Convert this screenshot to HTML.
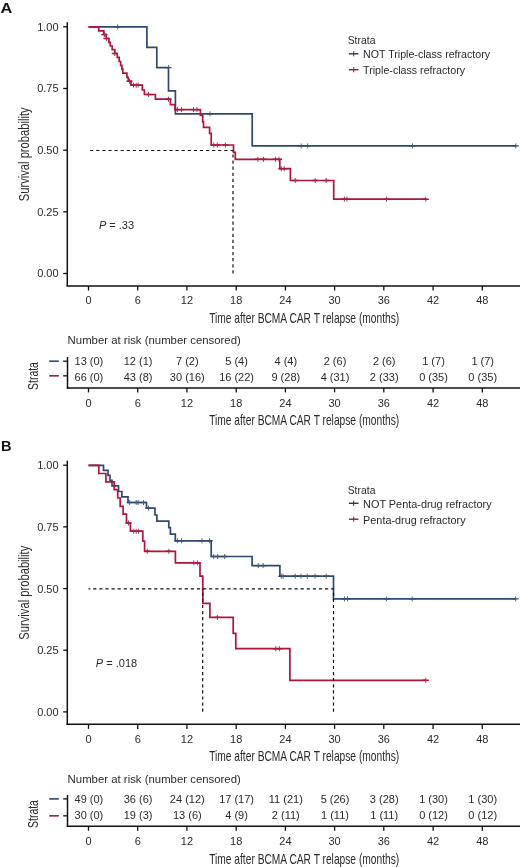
<!DOCTYPE html>
<html><head><meta charset="utf-8"><title>KM curves</title>
<style>
html,body{margin:0;padding:0;background:#fff;width:520px;height:867px;overflow:hidden;}
svg{display:block;will-change:transform;}
text{font-family:"Liberation Sans",sans-serif;}
</style></head><body>
<svg width="520" height="867" viewBox="0 0 520 867">
<rect width="520" height="867" fill="#fff"/>
<text x="0.6" y="13.4" font-size="15.0" font-weight="bold" textLength="11.8" lengthAdjust="spacingAndGlyphs" fill="#111">A</text>
<text x="58.6" y="30.7" font-size="11" text-anchor="end" fill="#2a2a2a">1.00</text>
<line x1="63.2" y1="26.8" x2="67.3" y2="26.8" stroke="#111" stroke-width="1.3"/>
<text x="58.6" y="92.4" font-size="11" text-anchor="end" fill="#2a2a2a">0.75</text>
<line x1="63.2" y1="88.5" x2="67.3" y2="88.5" stroke="#111" stroke-width="1.3"/>
<text x="58.6" y="154.1" font-size="11" text-anchor="end" fill="#2a2a2a">0.50</text>
<line x1="63.2" y1="150.2" x2="67.3" y2="150.2" stroke="#111" stroke-width="1.3"/>
<text x="58.6" y="215.7" font-size="11" text-anchor="end" fill="#2a2a2a">0.25</text>
<line x1="63.2" y1="211.8" x2="67.3" y2="211.8" stroke="#111" stroke-width="1.3"/>
<text x="58.6" y="277.4" font-size="11" text-anchor="end" fill="#2a2a2a">0.00</text>
<line x1="63.2" y1="273.5" x2="67.3" y2="273.5" stroke="#111" stroke-width="1.3"/>
<line x1="67.3" y1="22.3" x2="67.3" y2="286.6" stroke="#111" stroke-width="1.5"/>
<line x1="66.6" y1="285.9" x2="520" y2="285.9" stroke="#111" stroke-width="1.5"/>
<line x1="88.5" y1="286.0" x2="88.5" y2="290.5" stroke="#111" stroke-width="1.3"/>
<text x="88.5" y="304.3" font-size="11" text-anchor="middle" fill="#2a2a2a">0</text>
<line x1="137.7" y1="286.0" x2="137.7" y2="290.5" stroke="#111" stroke-width="1.3"/>
<text x="137.7" y="304.3" font-size="11" text-anchor="middle" fill="#2a2a2a">6</text>
<line x1="186.9" y1="286.0" x2="186.9" y2="290.5" stroke="#111" stroke-width="1.3"/>
<text x="186.9" y="304.3" font-size="11" text-anchor="middle" fill="#2a2a2a">12</text>
<line x1="236.2" y1="286.0" x2="236.2" y2="290.5" stroke="#111" stroke-width="1.3"/>
<text x="236.2" y="304.3" font-size="11" text-anchor="middle" fill="#2a2a2a">18</text>
<line x1="285.4" y1="286.0" x2="285.4" y2="290.5" stroke="#111" stroke-width="1.3"/>
<text x="285.4" y="304.3" font-size="11" text-anchor="middle" fill="#2a2a2a">24</text>
<line x1="334.6" y1="286.0" x2="334.6" y2="290.5" stroke="#111" stroke-width="1.3"/>
<text x="334.6" y="304.3" font-size="11" text-anchor="middle" fill="#2a2a2a">30</text>
<line x1="383.8" y1="286.0" x2="383.8" y2="290.5" stroke="#111" stroke-width="1.3"/>
<text x="383.8" y="304.3" font-size="11" text-anchor="middle" fill="#2a2a2a">36</text>
<line x1="433.1" y1="286.0" x2="433.1" y2="290.5" stroke="#111" stroke-width="1.3"/>
<text x="433.1" y="304.3" font-size="11" text-anchor="middle" fill="#2a2a2a">42</text>
<line x1="482.3" y1="286.0" x2="482.3" y2="290.5" stroke="#111" stroke-width="1.3"/>
<text x="482.3" y="304.3" font-size="11" text-anchor="middle" fill="#2a2a2a">48</text>
<text x="209.2" y="322.7" font-size="13.9" textLength="190" lengthAdjust="spacingAndGlyphs" fill="#2a2a2a">Time after BCMA CAR T relapse (months)</text>
<text transform="translate(28.9 154.3) rotate(-90)" x="0" y="0" font-size="13.8" text-anchor="middle" textLength="94" lengthAdjust="spacingAndGlyphs" fill="#2a2a2a">Survival probability</text>
<text x="347.7" y="44.2" font-size="10.4" fill="#2a2a2a">Strata</text>
<path d="M348.9 53.8H358.5" stroke="#263a58" stroke-width="1.4" fill="none"/><path d="M353.7 51.2V56.4" stroke="#263a58" stroke-width="1.0" fill="none"/>
<text x="363.1" y="58.4" font-size="10.7" textLength="127" lengthAdjust="spacingAndGlyphs" fill="#2a2a2a">NOT Triple-class refractory</text>
<path d="M348.9 69.7H358.5" stroke="#8a1c3a" stroke-width="1.4" fill="none"/><path d="M353.7 67.1V72.3" stroke="#8a1c3a" stroke-width="1.0" fill="none"/>
<text x="363.1" y="74.3" font-size="10.7" textLength="102" lengthAdjust="spacingAndGlyphs" fill="#2a2a2a">Triple-class refractory</text>
<path d="M88.5 26.8H146.9V47.3H156.8V67.6H168.5V90.9H175.4V113.8H252.2V145.9H516.0" stroke="#2f4a70" stroke-width="1.7" fill="none" stroke-linejoin="miter"/>
<path d="M114.7 26.8H120.7M165.5 67.6H171.5M207.0 113.8H213.0M298.2 145.9H304.2M304.7 145.9H310.7M409.5 145.9H415.5M512.8 145.9H518.8" stroke="#2f4a70" stroke-width="1.4" fill="none"/><path d="M117.7 24.3V29.3M168.5 65.1V70.1M210.0 111.3V116.3M301.2 143.4V148.4M307.7 143.4V148.4M412.5 143.4V148.4M515.8 143.4V148.4" stroke="#4a5a74" stroke-width="0.95" fill="none"/>
<path d="M88.5 26.8H98.7V30.8H103.8V34.5H106.2V38.5H108.9V42.3H110.2V46.0H112.2V49.7H114.8V53.5H117.3V57.4H119.2V61.5H120.6V65.3H121.9V69.2H122.8V73.2H126.9V77.4H128.3V81.2H131.0V85.2H142.3V90.0H144.4V94.5H155.4V99.2H170.4V104.6H175.0V109.6H200.4V115.4H202.7V121.9H203.5V127.3H209.6V133.3H211.2V145.0H233.5V152.4H235.3V159.3H279.8V168.7H290.4V180.5H333.7V199.2H426.0" stroke="#b0143c" stroke-width="1.7" fill="none" stroke-linejoin="miter"/>
<path d="M101.4 34.5H107.4M103.4 38.5H109.4M111.8 53.5H117.8M126.5 81.2H132.5M130.5 85.2H136.5M133.2 85.2H139.2M135.1 85.2H141.1M145.5 94.5H151.5M165.5 99.2H171.5M174.3 109.6H180.3M178.5 109.6H184.5M190.5 109.6H196.5M193.9 109.6H199.9M210.8 145.0H216.8M214.3 145.0H220.3M222.4 145.0H228.4M254.9 159.3H260.9M260.5 159.3H266.5M272.6 159.3H278.6M276.0 159.3H282.0M278.3 168.7H284.3M281.2 168.7H287.2M292.2 180.5H298.2M312.2 180.5H318.2M323.2 180.5H329.2M341.4 199.2H347.4M343.9 199.2H349.9M383.5 199.2H389.5M422.8 199.2H428.8" stroke="#b0143c" stroke-width="1.4" fill="none"/><path d="M104.4 32.0V37.0M106.4 36.0V41.0M114.8 51.0V56.0M129.5 78.7V83.7M133.5 82.7V87.7M136.2 82.7V87.7M138.1 82.7V87.7M148.5 92.0V97.0M168.5 96.7V101.7M177.3 107.1V112.1M181.5 107.1V112.1M193.5 107.1V112.1M196.9 107.1V112.1M213.8 142.5V147.5M217.3 142.5V147.5M225.4 142.5V147.5M257.9 156.8V161.8M263.5 156.8V161.8M275.6 156.8V161.8M279.0 156.8V161.8M281.3 166.2V171.2M284.2 166.2V171.2M295.2 178.0V183.0M315.2 178.0V183.0M326.2 178.0V183.0M344.4 196.7V201.7M346.9 196.7V201.7M386.5 196.7V201.7M425.8 196.7V201.7" stroke="#94304f" stroke-width="0.95" fill="none"/>
<path d="M90.1 150.5H233.0" stroke="#111" stroke-width="1.2" stroke-dasharray="3.2 2.9" stroke-dashoffset="0" fill="none"/>
<path d="M233.0 273.5V150.5" stroke="#111" stroke-width="1.2" stroke-dasharray="3.2 2.9" stroke-dashoffset="0" fill="none"/>
<text x="116.5" y="229.4" font-size="11" text-anchor="middle" fill="#2a2a2a"><tspan font-style="italic">P</tspan> = .33</text>
<text x="67.6" y="343.7" font-size="11" textLength="173.2" lengthAdjust="spacingAndGlyphs" fill="#2a2a2a">Number at risk (number censored)</text>
<text transform="translate(37.5 376.0) rotate(-90)" font-size="14.2" text-anchor="middle" textLength="27.8" lengthAdjust="spacingAndGlyphs" fill="#2a2a2a">Strata</text>
<line x1="49.2" y1="361.2" x2="58.8" y2="361.2" stroke="#34507a" stroke-width="1.7"/>
<line x1="49.2" y1="375.8" x2="58.8" y2="375.8" stroke="#98284a" stroke-width="1.7"/>
<line x1="63.2" y1="361.2" x2="67.3" y2="361.2" stroke="#111" stroke-width="1.3"/>
<line x1="63.2" y1="375.8" x2="67.3" y2="375.8" stroke="#111" stroke-width="1.3"/>
<line x1="67.5" y1="357.0" x2="67.5" y2="388.6" stroke="#111" stroke-width="1.5"/>
<line x1="66.8" y1="387.9" x2="520" y2="387.9" stroke="#111" stroke-width="1.5"/>
<line x1="88.5" y1="388.0" x2="88.5" y2="392.4" stroke="#111" stroke-width="1.3"/>
<text x="88.5" y="406.6" font-size="11" text-anchor="middle" fill="#2a2a2a">0</text>
<text x="88.9" y="364.5" font-size="11" text-anchor="middle" fill="#2a2a2a">13 (0)</text>
<text x="88.9" y="380.8" font-size="11" text-anchor="middle" fill="#2a2a2a">66 (0)</text>
<line x1="137.7" y1="388.0" x2="137.7" y2="392.4" stroke="#111" stroke-width="1.3"/>
<text x="137.7" y="406.6" font-size="11" text-anchor="middle" fill="#2a2a2a">6</text>
<text x="138.1" y="364.5" font-size="11" text-anchor="middle" fill="#2a2a2a">12 (1)</text>
<text x="138.1" y="380.8" font-size="11" text-anchor="middle" fill="#2a2a2a">43 (8)</text>
<line x1="186.9" y1="388.0" x2="186.9" y2="392.4" stroke="#111" stroke-width="1.3"/>
<text x="186.9" y="406.6" font-size="11" text-anchor="middle" fill="#2a2a2a">12</text>
<text x="187.3" y="364.5" font-size="11" text-anchor="middle" fill="#2a2a2a">7 (2)</text>
<text x="187.3" y="380.8" font-size="11" text-anchor="middle" fill="#2a2a2a">30 (16)</text>
<line x1="236.2" y1="388.0" x2="236.2" y2="392.4" stroke="#111" stroke-width="1.3"/>
<text x="236.2" y="406.6" font-size="11" text-anchor="middle" fill="#2a2a2a">18</text>
<text x="236.6" y="364.5" font-size="11" text-anchor="middle" fill="#2a2a2a">5 (4)</text>
<text x="236.6" y="380.8" font-size="11" text-anchor="middle" fill="#2a2a2a">16 (22)</text>
<line x1="285.4" y1="388.0" x2="285.4" y2="392.4" stroke="#111" stroke-width="1.3"/>
<text x="285.4" y="406.6" font-size="11" text-anchor="middle" fill="#2a2a2a">24</text>
<text x="285.8" y="364.5" font-size="11" text-anchor="middle" fill="#2a2a2a">4 (4)</text>
<text x="285.8" y="380.8" font-size="11" text-anchor="middle" fill="#2a2a2a">9 (28)</text>
<line x1="334.6" y1="388.0" x2="334.6" y2="392.4" stroke="#111" stroke-width="1.3"/>
<text x="334.6" y="406.6" font-size="11" text-anchor="middle" fill="#2a2a2a">30</text>
<text x="335.0" y="364.5" font-size="11" text-anchor="middle" fill="#2a2a2a">2 (6)</text>
<text x="335.0" y="380.8" font-size="11" text-anchor="middle" fill="#2a2a2a">4 (31)</text>
<line x1="383.8" y1="388.0" x2="383.8" y2="392.4" stroke="#111" stroke-width="1.3"/>
<text x="383.8" y="406.6" font-size="11" text-anchor="middle" fill="#2a2a2a">36</text>
<text x="384.2" y="364.5" font-size="11" text-anchor="middle" fill="#2a2a2a">2 (6)</text>
<text x="384.2" y="380.8" font-size="11" text-anchor="middle" fill="#2a2a2a">2 (33)</text>
<line x1="433.1" y1="388.0" x2="433.1" y2="392.4" stroke="#111" stroke-width="1.3"/>
<text x="433.1" y="406.6" font-size="11" text-anchor="middle" fill="#2a2a2a">42</text>
<text x="433.5" y="364.5" font-size="11" text-anchor="middle" fill="#2a2a2a">1 (7)</text>
<text x="433.5" y="380.8" font-size="11" text-anchor="middle" fill="#2a2a2a">0 (35)</text>
<line x1="482.3" y1="388.0" x2="482.3" y2="392.4" stroke="#111" stroke-width="1.3"/>
<text x="482.3" y="406.6" font-size="11" text-anchor="middle" fill="#2a2a2a">48</text>
<text x="482.7" y="364.5" font-size="11" text-anchor="middle" fill="#2a2a2a">1 (7)</text>
<text x="482.7" y="380.8" font-size="11" text-anchor="middle" fill="#2a2a2a">0 (35)</text>
<text x="209.2" y="425.4" font-size="13.9" textLength="190" lengthAdjust="spacingAndGlyphs" fill="#2a2a2a">Time after BCMA CAR T relapse (months)</text>
<text x="1.0" y="451.3" font-size="14.6" font-weight="bold" fill="#111">B</text>
<text x="58.6" y="469.1" font-size="11" text-anchor="end" fill="#2a2a2a">1.00</text>
<line x1="63.2" y1="465.2" x2="67.3" y2="465.2" stroke="#111" stroke-width="1.3"/>
<text x="58.6" y="530.8" font-size="11" text-anchor="end" fill="#2a2a2a">0.75</text>
<line x1="63.2" y1="526.9" x2="67.3" y2="526.9" stroke="#111" stroke-width="1.3"/>
<text x="58.6" y="592.5" font-size="11" text-anchor="end" fill="#2a2a2a">0.50</text>
<line x1="63.2" y1="588.6" x2="67.3" y2="588.6" stroke="#111" stroke-width="1.3"/>
<text x="58.6" y="654.1" font-size="11" text-anchor="end" fill="#2a2a2a">0.25</text>
<line x1="63.2" y1="650.2" x2="67.3" y2="650.2" stroke="#111" stroke-width="1.3"/>
<text x="58.6" y="715.8" font-size="11" text-anchor="end" fill="#2a2a2a">0.00</text>
<line x1="63.2" y1="711.9" x2="67.3" y2="711.9" stroke="#111" stroke-width="1.3"/>
<line x1="67.3" y1="460.7" x2="67.3" y2="725.0" stroke="#111" stroke-width="1.5"/>
<line x1="66.6" y1="724.3" x2="520" y2="724.3" stroke="#111" stroke-width="1.5"/>
<line x1="88.5" y1="724.4" x2="88.5" y2="728.9" stroke="#111" stroke-width="1.3"/>
<text x="88.5" y="742.7" font-size="11" text-anchor="middle" fill="#2a2a2a">0</text>
<line x1="137.7" y1="724.4" x2="137.7" y2="728.9" stroke="#111" stroke-width="1.3"/>
<text x="137.7" y="742.7" font-size="11" text-anchor="middle" fill="#2a2a2a">6</text>
<line x1="186.9" y1="724.4" x2="186.9" y2="728.9" stroke="#111" stroke-width="1.3"/>
<text x="186.9" y="742.7" font-size="11" text-anchor="middle" fill="#2a2a2a">12</text>
<line x1="236.2" y1="724.4" x2="236.2" y2="728.9" stroke="#111" stroke-width="1.3"/>
<text x="236.2" y="742.7" font-size="11" text-anchor="middle" fill="#2a2a2a">18</text>
<line x1="285.4" y1="724.4" x2="285.4" y2="728.9" stroke="#111" stroke-width="1.3"/>
<text x="285.4" y="742.7" font-size="11" text-anchor="middle" fill="#2a2a2a">24</text>
<line x1="334.6" y1="724.4" x2="334.6" y2="728.9" stroke="#111" stroke-width="1.3"/>
<text x="334.6" y="742.7" font-size="11" text-anchor="middle" fill="#2a2a2a">30</text>
<line x1="383.8" y1="724.4" x2="383.8" y2="728.9" stroke="#111" stroke-width="1.3"/>
<text x="383.8" y="742.7" font-size="11" text-anchor="middle" fill="#2a2a2a">36</text>
<line x1="433.1" y1="724.4" x2="433.1" y2="728.9" stroke="#111" stroke-width="1.3"/>
<text x="433.1" y="742.7" font-size="11" text-anchor="middle" fill="#2a2a2a">42</text>
<line x1="482.3" y1="724.4" x2="482.3" y2="728.9" stroke="#111" stroke-width="1.3"/>
<text x="482.3" y="742.7" font-size="11" text-anchor="middle" fill="#2a2a2a">48</text>
<text x="209.2" y="761.1" font-size="13.9" textLength="190" lengthAdjust="spacingAndGlyphs" fill="#2a2a2a">Time after BCMA CAR T relapse (months)</text>
<text transform="translate(28.9 592.7) rotate(-90)" x="0" y="0" font-size="13.8" text-anchor="middle" textLength="94" lengthAdjust="spacingAndGlyphs" fill="#2a2a2a">Survival probability</text>
<text x="347.7" y="493.7" font-size="10.4" fill="#2a2a2a">Strata</text>
<path d="M348.9 503.3H358.5" stroke="#263a58" stroke-width="1.4" fill="none"/><path d="M353.7 500.7V505.9" stroke="#263a58" stroke-width="1.0" fill="none"/>
<text x="363.1" y="507.9" font-size="10.7" textLength="128.5" lengthAdjust="spacingAndGlyphs" fill="#2a2a2a">NOT Penta-drug refractory</text>
<path d="M348.9 519.2H358.5" stroke="#8a1c3a" stroke-width="1.4" fill="none"/><path d="M353.7 516.6V521.8" stroke="#8a1c3a" stroke-width="1.0" fill="none"/>
<text x="363.1" y="523.8" font-size="10.7" textLength="102.5" lengthAdjust="spacingAndGlyphs" fill="#2a2a2a">Penta-drug refractory</text>
<path d="M88.5 465.4H103.5V470.4H108.0V475.4H110.0V480.4H112.0V485.8H118.5V491.5H121.9V496.9H128.0V502.5H146.5V508.2H155.0V515.0H156.9V521.2H168.8V527.7H170.4V534.2H175.3V540.8H211.2V556.5H252.1V565.6H279.9V576.2H333.5V598.9H516.0" stroke="#2f4a70" stroke-width="1.7" fill="none" stroke-linejoin="miter"/>
<path d="M126.6 502.5H132.6M133.2 502.5H139.2M135.1 502.5H141.1M140.5 502.5H146.5M145.5 508.2H151.5M174.4 540.8H180.4M178.5 540.8H184.5M199.0 540.8H205.0M206.7 540.8H212.7M210.8 556.5H216.8M214.7 556.5H220.7M221.6 556.5H227.6M255.3 565.6H261.3M260.1 565.6H266.1M278.3 576.2H284.3M280.1 576.2H286.1M292.3 576.2H298.3M298.0 576.2H304.0M304.3 576.2H310.3M312.0 576.2H318.0M323.3 576.2H329.3M341.6 598.9H347.6M344.5 598.9H350.5M383.6 598.9H389.6M409.2 598.9H415.2M512.6 598.9H518.6" stroke="#2f4a70" stroke-width="1.4" fill="none"/><path d="M129.6 500.0V505.0M136.2 500.0V505.0M138.1 500.0V505.0M143.5 500.0V505.0M148.5 505.7V510.7M177.4 538.3V543.3M181.5 538.3V543.3M202.0 538.3V543.3M209.7 538.3V543.3M213.8 554.0V559.0M217.7 554.0V559.0M224.6 554.0V559.0M258.3 563.1V568.1M263.1 563.1V568.1M281.3 573.7V578.7M283.1 573.7V578.7M295.3 573.7V578.7M301.0 573.7V578.7M307.3 573.7V578.7M315.0 573.7V578.7M326.3 573.7V578.7M344.6 596.4V601.4M347.5 596.4V601.4M386.6 596.4V601.4M412.2 596.4V601.4M515.6 596.4V601.4" stroke="#4a5a74" stroke-width="0.95" fill="none"/>
<path d="M88.5 465.4H98.8V473.5H105.9V481.9H114.2V489.6H117.7V498.0H120.2V506.3H123.1V514.2H126.5V523.0H130.4V531.2H142.8V541.2H144.6V551.3H175.4V562.8H200.0V576.2H202.8V603.3H209.9V617.4H233.2V633.4H235.8V648.7H289.9V680.3H426.0" stroke="#b0143c" stroke-width="1.7" fill="none" stroke-linejoin="miter"/>
<path d="M125.5 523.0H131.5M130.8 531.2H136.8M133.2 531.2H139.2M135.5 531.2H141.5M144.3 551.3H150.3M165.8 551.3H171.8M190.8 562.8H196.8M194.4 562.8H200.4M214.3 617.4H220.3M272.8 648.7H278.8M276.3 648.7H282.3M422.8 680.3H428.8" stroke="#b0143c" stroke-width="1.4" fill="none"/><path d="M128.5 520.5V525.5M133.8 528.7V533.7M136.2 528.7V533.7M138.5 528.7V533.7M147.3 548.8V553.8M168.8 548.8V553.8M193.8 560.3V565.3M197.4 560.3V565.3M217.3 614.9V619.9M275.8 646.2V651.2M279.3 646.2V651.2M425.8 677.8V682.8" stroke="#94304f" stroke-width="0.95" fill="none"/>
<path d="M88.5 588.8H333.5" stroke="#111" stroke-width="1.2" stroke-dasharray="3.2 2.9" stroke-dashoffset="1.4" fill="none"/>
<path d="M333.5 711.8V588.8" stroke="#111" stroke-width="1.2" stroke-dasharray="3.2 2.9" stroke-dashoffset="0" fill="none"/>
<path d="M202.7 711.8V588.8" stroke="#111" stroke-width="1.2" stroke-dasharray="3.2 2.9" stroke-dashoffset="0" fill="none"/>
<text x="116.5" y="666.7" font-size="11" text-anchor="middle" fill="#2a2a2a"><tspan font-style="italic">P</tspan> = .018</text>
<text x="67.6" y="782.8" font-size="11" textLength="173.2" lengthAdjust="spacingAndGlyphs" fill="#2a2a2a">Number at risk (number censored)</text>
<text transform="translate(37.5 814.0) rotate(-90)" font-size="14.2" text-anchor="middle" textLength="27.8" lengthAdjust="spacingAndGlyphs" fill="#2a2a2a">Strata</text>
<line x1="49.2" y1="798.9" x2="58.8" y2="798.9" stroke="#34507a" stroke-width="1.7"/>
<line x1="49.2" y1="815.8" x2="58.8" y2="815.8" stroke="#98284a" stroke-width="1.7"/>
<line x1="63.2" y1="798.9" x2="67.3" y2="798.9" stroke="#111" stroke-width="1.3"/>
<line x1="63.2" y1="815.8" x2="67.3" y2="815.8" stroke="#111" stroke-width="1.3"/>
<line x1="67.5" y1="795.0" x2="67.5" y2="826.9" stroke="#111" stroke-width="1.5"/>
<line x1="66.8" y1="826.2" x2="520" y2="826.2" stroke="#111" stroke-width="1.5"/>
<line x1="88.5" y1="826.3" x2="88.5" y2="830.7" stroke="#111" stroke-width="1.3"/>
<text x="88.5" y="844.7" font-size="11" text-anchor="middle" fill="#2a2a2a">0</text>
<text x="88.9" y="802.6" font-size="11" text-anchor="middle" fill="#2a2a2a">49 (0)</text>
<text x="88.9" y="819.2" font-size="11" text-anchor="middle" fill="#2a2a2a">30 (0)</text>
<line x1="137.7" y1="826.3" x2="137.7" y2="830.7" stroke="#111" stroke-width="1.3"/>
<text x="137.7" y="844.7" font-size="11" text-anchor="middle" fill="#2a2a2a">6</text>
<text x="138.1" y="802.6" font-size="11" text-anchor="middle" fill="#2a2a2a">36 (6)</text>
<text x="138.1" y="819.2" font-size="11" text-anchor="middle" fill="#2a2a2a">19 (3)</text>
<line x1="186.9" y1="826.3" x2="186.9" y2="830.7" stroke="#111" stroke-width="1.3"/>
<text x="186.9" y="844.7" font-size="11" text-anchor="middle" fill="#2a2a2a">12</text>
<text x="187.3" y="802.6" font-size="11" text-anchor="middle" fill="#2a2a2a">24 (12)</text>
<text x="187.3" y="819.2" font-size="11" text-anchor="middle" fill="#2a2a2a">13 (6)</text>
<line x1="236.2" y1="826.3" x2="236.2" y2="830.7" stroke="#111" stroke-width="1.3"/>
<text x="236.2" y="844.7" font-size="11" text-anchor="middle" fill="#2a2a2a">18</text>
<text x="236.6" y="802.6" font-size="11" text-anchor="middle" fill="#2a2a2a">17 (17)</text>
<text x="236.6" y="819.2" font-size="11" text-anchor="middle" fill="#2a2a2a">4 (9)</text>
<line x1="285.4" y1="826.3" x2="285.4" y2="830.7" stroke="#111" stroke-width="1.3"/>
<text x="285.4" y="844.7" font-size="11" text-anchor="middle" fill="#2a2a2a">24</text>
<text x="285.8" y="802.6" font-size="11" text-anchor="middle" fill="#2a2a2a">11 (21)</text>
<text x="285.8" y="819.2" font-size="11" text-anchor="middle" fill="#2a2a2a">2 (11)</text>
<line x1="334.6" y1="826.3" x2="334.6" y2="830.7" stroke="#111" stroke-width="1.3"/>
<text x="334.6" y="844.7" font-size="11" text-anchor="middle" fill="#2a2a2a">30</text>
<text x="335.0" y="802.6" font-size="11" text-anchor="middle" fill="#2a2a2a">5 (26)</text>
<text x="335.0" y="819.2" font-size="11" text-anchor="middle" fill="#2a2a2a">1 (11)</text>
<line x1="383.8" y1="826.3" x2="383.8" y2="830.7" stroke="#111" stroke-width="1.3"/>
<text x="383.8" y="844.7" font-size="11" text-anchor="middle" fill="#2a2a2a">36</text>
<text x="384.2" y="802.6" font-size="11" text-anchor="middle" fill="#2a2a2a">3 (28)</text>
<text x="384.2" y="819.2" font-size="11" text-anchor="middle" fill="#2a2a2a">1 (11)</text>
<line x1="433.1" y1="826.3" x2="433.1" y2="830.7" stroke="#111" stroke-width="1.3"/>
<text x="433.1" y="844.7" font-size="11" text-anchor="middle" fill="#2a2a2a">42</text>
<text x="433.5" y="802.6" font-size="11" text-anchor="middle" fill="#2a2a2a">1 (30)</text>
<text x="433.5" y="819.2" font-size="11" text-anchor="middle" fill="#2a2a2a">0 (12)</text>
<line x1="482.3" y1="826.3" x2="482.3" y2="830.7" stroke="#111" stroke-width="1.3"/>
<text x="482.3" y="844.7" font-size="11" text-anchor="middle" fill="#2a2a2a">48</text>
<text x="482.7" y="802.6" font-size="11" text-anchor="middle" fill="#2a2a2a">1 (30)</text>
<text x="482.7" y="819.2" font-size="11" text-anchor="middle" fill="#2a2a2a">0 (12)</text>
<text x="209.2" y="863.8" font-size="13.9" textLength="190" lengthAdjust="spacingAndGlyphs" fill="#2a2a2a">Time after BCMA CAR T relapse (months)</text>
</svg>
</body></html>
